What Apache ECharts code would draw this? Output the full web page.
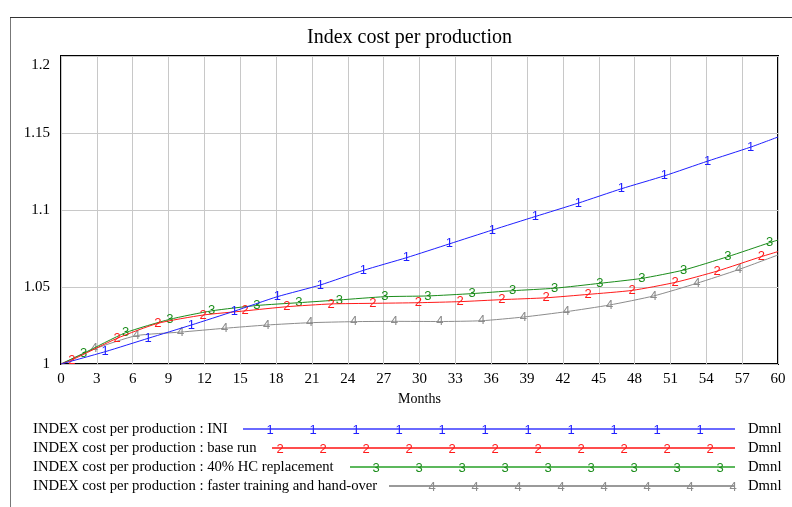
<!DOCTYPE html>
<html>
<head>
<meta charset="utf-8">
<script src="https://cdn.jsdelivr.net/npm/echarts@6/dist/echarts.min.js"></script>
<style>
html, body { margin: 0; padding: 0; background: #fff; }
#chart { width: 792px; height: 507px; }
</style>
</head>
<body>
<div id="chart"></div>
<script>
var iniMonths = [0, 3.7, 7.3, 10.9, 14.5, 18.1, 21.7, 25.3, 28.9, 32.5, 36.1, 39.7, 43.3, 46.9, 50.5, 54.1, 57.7, 60];
var iniValues = [1.0, 1.008, 1.0167, 1.0253, 1.0343, 1.0437, 1.0513, 1.0608, 1.069, 1.078, 1.087, 1.0958, 1.1045, 1.1138, 1.1222, 1.1317, 1.1408, 1.1474];

var baseMonths = [0, 0.9, 4.7, 8.1, 11.9, 15.4, 18.9, 22.6, 26.1, 29.9, 33.4, 36.9, 40.6, 44.1, 47.8, 51.4, 54.9, 58.6, 60];
var baseValues = [1.0, 1.0026, 1.0167, 1.0264, 1.0318, 1.0345, 1.0372, 1.039, 1.0394, 1.0398, 1.0405, 1.0418, 1.043, 1.0452, 1.0478, 1.053, 1.0603, 1.0697, 1.073];

var hcMonths = [0, 1.9, 5.4, 9.1, 12.6, 16.4, 19.9, 23.3, 27.1, 30.7, 34.4, 37.8, 41.3, 45.1, 48.6, 52.1, 55.8, 59.3, 60];
var hcValues = [1.0, 1.007, 1.0203, 1.029, 1.0345, 1.038, 1.0398, 1.0416, 1.0437, 1.0442, 1.0457, 1.0476, 1.0492, 1.0524, 1.0556, 1.061, 1.0697, 1.0788, 1.0805];

var fastMonths = [0, 2.8, 6.3, 10, 13.7, 17.2, 20.8, 24.5, 27.9, 31.7, 35.2, 38.7, 42.3, 45.9, 49.6, 53.2, 56.7, 60];
var fastValues = [1.0, 1.0098, 1.0184, 1.0207, 1.0232, 1.0253, 1.0268, 1.0275, 1.0277, 1.0276, 1.0281, 1.0305, 1.034, 1.0383, 1.0442, 1.0524, 1.0613, 1.0708];

var runNames = [
    'INDEX cost per production : INI',
    'INDEX cost per production : base run',
    'INDEX cost per production : 40% HC replacement',
    'INDEX cost per production : faster training and hand-over'
];
var runTags = ['1', '2', '3', '4'];
var runColors = ['#1f1fff', '#ff1a1a', '#1a8c1a', '#8c8c8c'];
var legendColors = ['#6a6aff', '#ff4d4d', '#5cb85c', '#9a9a9a'];
var units = 'Dmnl';

var serif = 'Liberation Serif';

var dom = document.getElementById('chart');
var myChart = echarts.init(dom);

function makeRun(idx, months, values) {
    var last = months.length - 1;
    var data = months.map(function (m, i) {
        var item = { value: [m, values[i]] };
        if (i === 0 || i === last) {
            item.label = { show: false };
        }
        return item;
    });
    return {
        name: runNames[idx],
        type: 'line',
        data: data,
        symbol: 'circle',
        symbolSize: 0.1,
        showAllSymbol: true,
        smooth: 0.2,
        lineStyle: { width: 1, color: runColors[idx] },
        itemStyle: { color: runColors[idx] },
        label: {
            show: true,
            position: 'inside',
            formatter: runTags[idx],
            color: runColors[idx],
            fontFamily: 'Liberation Sans',
            fontSize: 13
        },
        emphasis: { disabled: true },
        z: 10 - idx
    };
}

// legend rows drawn by hand, Vensim style
var rowY = [429, 448, 467, 486];
var lineStart = [243, 272, 350, 389];
var firstMark = [270, 280, 376, 432];
var graphics = [
    { type: 'line', shape: { x1: 10.5, y1: 17, x2: 10.5, y2: 507 }, style: { stroke: '#777', lineWidth: 1 } },
    { type: 'line', shape: { x1: 10, y1: 17.5, x2: 792, y2: 17.5 }, style: { stroke: '#333', lineWidth: 1 } }
];
for (var r = 0; r < 4; r++) {
    graphics.push({
        type: 'text', x: 33, y: rowY[r],
        style: { text: runNames[r], fontFamily: serif, fontSize: 14.7, fill: '#000', textVerticalAlign: 'middle' }
    });
    graphics.push({
        type: 'line', shape: { x1: lineStart[r], y1: rowY[r], x2: 735, y2: rowY[r] },
        style: { stroke: legendColors[r], lineWidth: 2 }
    });
    for (var mx = firstMark[r]; mx <= 735; mx += 43) {
        graphics.push({
            type: 'text', x: mx, y: rowY[r] + 1,
            style: { text: runTags[r], fontFamily: 'Liberation Sans', fontSize: 13, fill: runColors[r], textAlign: 'center', textVerticalAlign: 'middle' }
        });
    }
    graphics.push({
        type: 'text', x: 748, y: rowY[r],
        style: { text: units, fontFamily: serif, fontSize: 14.7, fill: '#000', textVerticalAlign: 'middle' }
    });
}

option = {
    animation: false,
    title: {
        text: 'Index cost per production',
        left: 302,
        top: 23,
        textStyle: {
            fontFamily: serif,
            fontSize: 20,
            fontWeight: 'normal',
            color: '#000'
        }
    },
    grid: {
        left: 61,
        right: 14,
        top: 56,
        bottom: 143,
        show: true,
        borderColor: '#000',
        borderWidth: 2,
        backgroundColor: '#fff'
    },
    xAxis: {
        type: 'value',
        min: 0,
        max: 60,
        interval: 3,
        name: 'Months',
        nameLocation: 'middle',
        nameGap: 24,
        nameTextStyle: { fontFamily: serif, fontSize: 14, color: '#000' },
        axisLine: { show: false },
        axisTick: { show: false },
        axisLabel: { fontFamily: serif, fontSize: 15, color: '#000', margin: 8 },
        splitLine: { show: true, lineStyle: { color: '#c8c8c8', width: 1 } }
    },
    yAxis: {
        type: 'value',
        min: 1,
        max: 1.2,
        interval: 0.05,
        axisLine: { show: false },
        axisTick: { show: false },
        axisLabel: {
            fontFamily: serif,
            fontSize: 15,
            color: '#000',
            margin: 11,
            formatter: function (v) {
                var s = String(Math.round(v * 100) / 100);
                return v > 1.19 ? '{top|' + s + '}' : s;
            },
            rich: {
                top: { fontFamily: serif, fontSize: 15, color: '#000', padding: [18, 0, 0, 0] }
            }
        },
        splitLine: { show: true, lineStyle: { color: '#c8c8c8', width: 1 } }
    },
    graphic: graphics,
    series: [
        makeRun(0, iniMonths, iniValues),
        makeRun(1, baseMonths, baseValues),
        makeRun(2, hcMonths, hcValues),
        makeRun(3, fastMonths, fastValues)
    ]
};
if (option && typeof option === "object") {
    myChart.setOption(option, true);
}
</script>
</body>
</html>
